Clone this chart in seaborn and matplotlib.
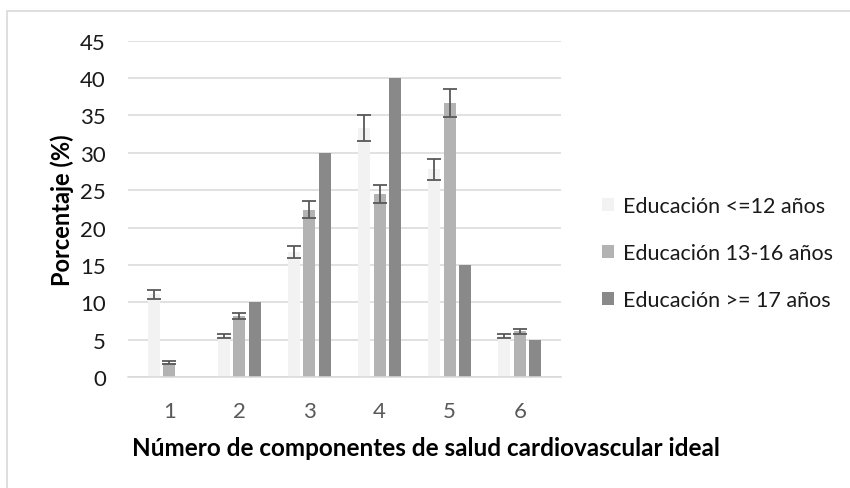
import pandas as pd
import numpy as np
import matplotlib
matplotlib.use('Agg')
import matplotlib.pyplot as plt
from matplotlib.patches import Rectangle
import seaborn as sns

# Datos
componentes = ['1', '2', '3', '4', '5', '6']
grupos = ['Educación <=12 años', 'Educación 13-16 años', 'Educación >= 17 años']
edu_baja = [11.1, 5.5, 16.7, 33.3, 27.8, 5.5]
edu_media = [1.9, 8.2, 22.4, 24.5, 36.7, 6.1]
edu_alta = [0, 10, 30, 40, 15, 5]
err_baja = [0.6, 0.3, 0.8, 1.7, 1.4, 0.3]
err_media = [0.2, 0.4, 1.1, 1.2, 1.9, 0.3]
colores = ['#F2F2F2', '#B3B3B3', '#898989']

df = pd.DataFrame({
    'Componentes': componentes * 3,
    'Grupo': np.repeat(grupos, len(componentes)),
    'Porcentaje': edu_baja + edu_media + edu_alta,
})

sns.set_theme(style='white')
plt.rcParams['font.family'] = ['Lato', 'DejaVu Sans']

fig = plt.figure(figsize=(8.5, 4.89), dpi=100)
ax = fig.add_axes([128 / 850, 1 - 378 / 489, (561 - 128) / 850, (378 - 41.7) / 489])

sns.barplot(data=df, x='Componentes', y='Porcentaje', hue='Grupo',
            palette=colores, width=0.665, gap=0.23, errorbar=None,
            linewidth=0, ax=ax, zorder=2)

# Barras de error (sólo para los dos primeros grupos)
for cont, vals, errs in zip(ax.containers[:2], [edu_baja, edu_media], [err_baja, err_media]):
    xs = [p.get_x() + p.get_width() / 2 for p in cont.patches]
    ax.errorbar(xs, vals, yerr=errs, fmt='none', ecolor='#595959',
                elinewidth=1.3, capsize=5, capthick=1.3, zorder=3)

ax.set_ylim(0, 45)
ax.set_yticks(range(0, 46, 5))
ax.yaxis.grid(True, color='#D9D9D9', linewidth=1.1, zorder=0)
ax.set_axisbelow(True)
for s in ['top', 'right', 'left']:
    ax.spines[s].set_visible(False)
ax.spines['bottom'].set_color('#D9D9D9')
ax.spines['bottom'].set_linewidth(1.1)
ax.tick_params(axis='y', length=0, labelsize=16, labelcolor='#1a1a1a', pad=16)
ax.tick_params(axis='x', length=0, labelsize=16, labelcolor='#595959', pad=17)

ax.set_xlabel('Número de componentes de salud cardiovascular ideal',
              fontsize=17.5, fontweight='bold', color='black', va='center')
ax.xaxis.set_label_coords(0.688, -0.21)
ax.set_ylabel('Porcentaje (%)', fontsize=17, fontweight='bold', color='black', va='center')
ax.yaxis.set_label_coords(-0.152, 0.5)

ax.legend(loc='center left', bbox_to_anchor=(583 / 850, 1 - 254 / 489),
          bbox_transform=fig.transFigure, frameon=False, fontsize=15.5,
          handlelength=0.56, handleheight=0.56, handletextpad=0.4,
          labelspacing=1.25, labelcolor='#1a1a1a')

# Marco exterior del gráfico
fig.patches.append(Rectangle((7 / 850, -0.1), 1.1, 1 - 12 / 489 + 0.1,
                             transform=fig.transFigure, fill=False,
                             edgecolor='#D9D9D9', linewidth=1.2))

fig.savefig('out.png', dpi=100)
